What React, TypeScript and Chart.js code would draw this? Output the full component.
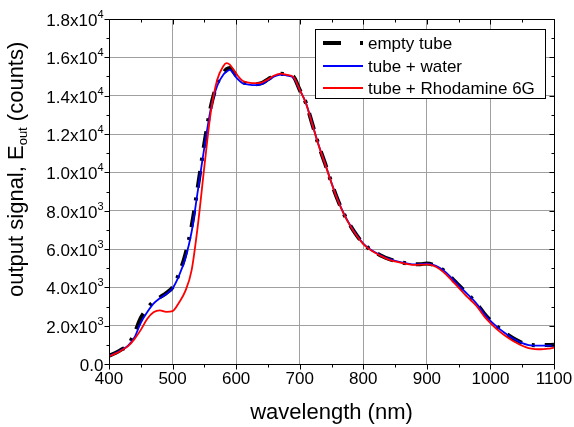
import React, { useEffect, useRef } from 'react';
import { Chart, registerables } from 'chart.js';

Chart.register(...registerables);

const wavelengths = [400, 410, 420, 430, 440, 450, 460, 470, 480, 490, 500, 510, 520, 530, 540, 550, 560, 570, 580, 585, 590, 600, 610, 620, 630, 640, 650, 660, 670, 680, 690, 700, 710, 720, 730, 740, 750, 760, 770, 780, 790, 800, 810, 820, 830, 840, 850, 860, 870, 880, 890, 900, 910, 920, 930, 940, 950, 960, 970, 980, 990, 1000, 1010, 1020, 1030, 1040, 1050, 1060, 1070, 1080, 1090, 1100];

const emptyTube = [430, 570, 760, 990, 1600, 2400, 2900, 3250, 3480, 3700, 4000, 4700, 5700, 7200, 9300, 11500, 13400, 14600, 15200, 15380, 15450, 15050, 14700, 14650, 14600, 14650, 14850, 15050, 15150, 15100, 15000, 14300, 13600, 12500, 11400, 10450, 9450, 8550, 7800, 7200, 6700, 6280, 6000, 5800, 5620, 5480, 5380, 5300, 5240, 5200, 5210, 5240, 5180, 5030, 4790, 4460, 4110, 3780, 3450, 3080, 2640, 2270, 1970, 1700, 1460, 1260, 1100, 1010, 980, 980, 990, 1000];

const water = [420, 560, 740, 960, 1380, 2150, 2700, 3150, 3430, 3650, 3950, 4600, 5500, 6900, 9100, 11300, 13300, 14500, 15100, 15250, 15350, 14950, 14650, 14580, 14550, 14600, 14800, 15000, 15100, 15050, 14950, 14300, 13600, 12500, 11400, 10450, 9450, 8550, 7800, 7200, 6700, 6280, 6000, 5800, 5620, 5480, 5380, 5300, 5240, 5200, 5210, 5230, 5170, 5020, 4780, 4450, 4100, 3770, 3450, 3070, 2620, 2250, 1950, 1680, 1450, 1250, 1090, 990, 960, 955, 955, 960];

const rhodamine = [400, 540, 720, 930, 1300, 1780, 2350, 2700, 2800, 2720, 2760, 3200, 3800, 4900, 7300, 10300, 13100, 14800, 15550, 15700, 15620, 15150, 14780, 14680, 14650, 14680, 14850, 15050, 15150, 15080, 14980, 14300, 13580, 12480, 11380, 10430, 9430, 8530, 7780, 7180, 6680, 6260, 5980, 5780, 5600, 5450, 5350, 5270, 5210, 5170, 5180, 5200, 5130, 4950, 4680, 4330, 3980, 3620, 3300, 2950, 2500, 2130, 1820, 1550, 1320, 1120, 950, 830, 780, 770, 800, 850];

const seriesLabels = ['empty tube', 'tube + water', 'tube + Rhodamine 6G'];
const xTickValues = [400, 500, 600, 700, 800, 900, 1000, 1100];
const yTickValues = [0, 2000, 4000, 6000, 8000, 10000, 12000, 14000, 16000, 18000];
const yTickBase = ['0.0', '2.0x10', '4.0x10', '6.0x10', '8.0x10', '1.0x10', '1.2x10', '1.4x10', '1.6x10', '1.8x10'];
const yTickExp = ['', '3', '3', '3', '3', '4', '4', '4', '4', '4'];
const xTitle = 'wavelength (nm)';
const yTitleParts = ['output signal, E', 'out', ' (counts)'];

const FONT = '"Liberation Sans", Arial, Helvetica, sans-serif';

const overlay = {
  id: 'overlay',
  afterDraw(chart: any) {
    const { ctx, chartArea: a, scales } = chart;
    const xs = scales.x;
    const ys = scales.y;
    const L = Math.round(a.left) + 0.5;
    const R = Math.round(a.right) + 0.5;
    const T = Math.round(a.top) + 0.5;
    const B = Math.round(a.bottom) + 0.5;
    ctx.save();
    ctx.strokeStyle = '#000';
    ctx.lineWidth = 1;
    ctx.setLineDash([]);
    ctx.beginPath();
    ctx.rect(L, T, R - L, B - T);
    ctx.stroke();

    // x ticks (major + minor)
    ctx.beginPath();
    for (let v = 400; v <= 1100; v += 50) {
      const px = Math.round(xs.getPixelForValue(v)) + 0.5;
      const len = v % 100 === 0 ? 5 : 3;
      ctx.moveTo(px, B); ctx.lineTo(px, B + len);
      ctx.moveTo(px, T); ctx.lineTo(px, T + len);
    }
    for (let v = 0; v <= 18000; v += 1000) {
      const py = Math.round(ys.getPixelForValue(v)) + 0.5;
      const len = v % 2000 === 0 ? 5 : 3;
      ctx.moveTo(L - len, py); ctx.lineTo(L, py);
      ctx.moveTo(R - len, py); ctx.lineTo(R, py);
    }
    ctx.stroke();

    // x tick labels
    ctx.fillStyle = '#000';
    ctx.font = `17px ${FONT}`;
    ctx.textAlign = 'center';
    ctx.textBaseline = 'alphabetic';
    xTickValues.forEach((v) => {
      ctx.fillText(String(v), xs.getPixelForValue(v), B + 19);
    });

    // y tick labels with superscript
    yTickValues.forEach((v, i) => {
      const py = ys.getPixelForValue(v);
      const base = yTickBase[i];
      const exp = yTickExp[i];
      ctx.font = `11px ${FONT}`;
      const ew = exp ? ctx.measureText(exp).width : 0;
      const right = L - 6;
      ctx.textAlign = 'right';
      ctx.textBaseline = 'alphabetic';
      if (exp) ctx.fillText(exp, right, py - 1);
      ctx.font = `17px ${FONT}`;
      ctx.fillText(base, right - ew, py + 7);
    });

    // x title
    ctx.font = `22px ${FONT}`;
    ctx.textAlign = 'center';
    ctx.textBaseline = 'alphabetic';
    ctx.fillText(xTitle, (a.left + a.right) / 2 + 0, 419);

    // y title rotated
    ctx.save();
    ctx.translate(23, 297);
    ctx.rotate(-Math.PI / 2);
    ctx.textAlign = 'left';
    ctx.textBaseline = 'alphabetic';
    let cx = 0;
    ctx.font = `22px ${FONT}`;
    ctx.fillText(yTitleParts[0], cx, 0);
    cx += ctx.measureText(yTitleParts[0]).width;
    ctx.font = `13px ${FONT}`;
    ctx.fillText(yTitleParts[1], cx, 4);
    cx += ctx.measureText(yTitleParts[1]).width;
    ctx.font = `22px ${FONT}`;
    ctx.fillText(yTitleParts[2], cx, 0);
    ctx.restore();

    // legend
    const lx = 315.5, ly = 29.5, lw = 230, lh = 69;
    ctx.fillStyle = '#fff';
    ctx.fillRect(lx, ly, lw, lh);
    ctx.strokeStyle = '#000';
    ctx.lineWidth = 1;
    ctx.strokeRect(lx, ly, lw, lh);
    const rows = [43, 66, 88];
    const dsets = chart.data.datasets;
    rows.forEach((ry, i) => {
      const ds = dsets[i];
      ctx.strokeStyle = ds.borderColor;
      ctx.fillStyle = ds.borderColor;
      if (i === 0) {
        ctx.lineWidth = 4;
        ctx.beginPath();
        ctx.moveTo(323, ry); ctx.lineTo(341, ry);
        ctx.stroke();
        ctx.fillRect(360, ry - 2, 3, 4);
      } else {
        ctx.lineWidth = 2;
        ctx.beginPath();
        ctx.moveTo(323, ry); ctx.lineTo(363, ry);
        ctx.stroke();
      }
      ctx.fillStyle = '#000';
      ctx.font = `17px ${FONT}`;
      ctx.textAlign = 'left';
      ctx.textBaseline = 'middle';
      ctx.fillText(seriesLabels[i], 368, ry + 1);
    });
    ctx.restore();
  },
};

export default function App() {
  const ref = useRef<HTMLCanvasElement>(null);
  useEffect(() => {
    document.body.style.margin = '0';
    const canvas = ref.current!;
    const mk = (ys: number[]) => wavelengths.map((x, i) => ({ x, y: ys[i] }));
    const chart = new Chart(canvas, {
      type: 'line',
      data: {
        datasets: [
          { label: seriesLabels[0], data: mk(emptyTube), borderColor: '#000000', borderWidth: 4, borderDash: [17, 10, 3, 10], pointRadius: 0, order: 2, cubicInterpolationMode: 'monotone', fill: false },
          { label: seriesLabels[1], data: mk(water), borderColor: '#0000ff', borderWidth: 1.8, pointRadius: 0, order: 1, cubicInterpolationMode: 'monotone', fill: false },
          { label: seriesLabels[2], data: mk(rhodamine), borderColor: '#ff0000', borderWidth: 1.8, pointRadius: 0, order: 0, cubicInterpolationMode: 'monotone', fill: false },
        ],
      },
      options: {
        responsive: false,
        animation: false,
        devicePixelRatio: 1,
        layout: { padding: { left: 109, right: 20, top: 19, bottom: 63 } },
        plugins: { legend: { display: false }, tooltip: { enabled: false } },
        scales: {
          x: {
            type: 'linear', min: 400, max: 1100,
            ticks: { display: false, stepSize: 100 },
            grid: { color: '#a0a0a0', lineWidth: 1, drawTicks: false },
            border: { display: false },
            afterFit: (s: any) => { s.height = 0; },
          },
          y: {
            type: 'linear', min: 0, max: 18000,
            ticks: { display: false, stepSize: 2000 },
            grid: { color: '#a0a0a0', lineWidth: 1, drawTicks: false },
            border: { display: false },
            afterFit: (s: any) => { s.width = 0; },
          },
        },
      },
      plugins: [overlay],
    });
    return () => chart.destroy();
  }, []);
  return (
    <canvas ref={ref} width={574} height={427} style={{ position: 'absolute', left: 0, top: 0, width: 574, height: 427 }} />
  );
}
